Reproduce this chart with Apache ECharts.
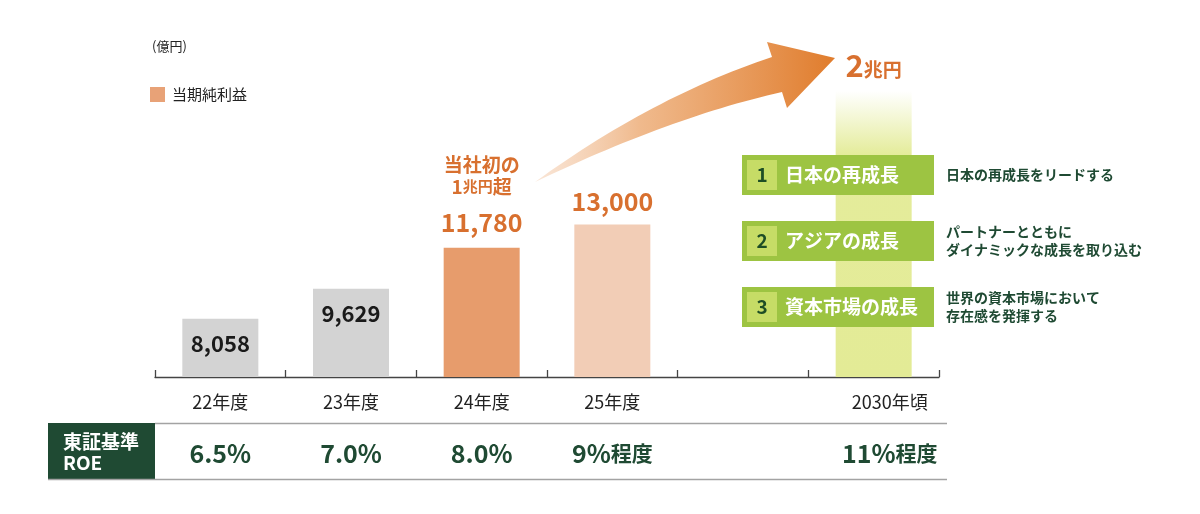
<!DOCTYPE html>
<html>
<head>
<meta charset="utf-8">
<script src="https://cdn.jsdelivr.net/npm/echarts@6/dist/echarts.min.js"></script>
<style>
html,body{margin:0;padding:0;background:#fff;}
#chart{width:1200px;height:514px;}
</style>
</head>
<body>
<div id="chart"></div>
<script>
// ---- data ----
const categories = ['22年度', '23年度', '24年度', '25年度', '', '2030年頃'];
const netIncome = [8058, 9629, 11780, 13000, null, 20000];
const valueLabels = ['8,058', '9,629', '11,780', '13,000', '', '2兆円'];
const roeLabels = ['6.5%', '7.0%', '8.0%', '9%程度', '', '11%程度'];
const unitLabel = '(億円)';
const seriesName = '当期純利益';
const milestoneNote = ['当社初の', '1兆円超'];
const pillarNums = ['1', '2', '3'];
const pillars = ['日本の再成長', 'アジアの成長', '資本市場の成長'];
const pillarNotes = [
  ['日本の再成長をリードする'],
  ['パートナーとともに', 'ダイナミックな成長を取り込む'],
  ['世界の資本市場において', '存在感を発揮する']
];
const roeHeader = ['東証基準', 'ROE'];

// ---- styles ----
const FONT = '"Noto Sans CJK JP", "Noto Sans", sans-serif';
const ORANGE = '#d8702f';
const DKGREEN = '#1f4a33';
const barColors = ['#d3d3d3', '#d3d3d3', '#e79c6c', '#f2cdb6', null,
  {type: 'linear', x: 0, y: 0, x2: 0, y2: 1, colorStops: [
    {offset: 0, color: 'rgba(227,235,150,0.0)'},
    {offset: 0.22, color: 'rgba(227,235,150,0.95)'},
    {offset: 1, color: 'rgba(227,235,150,1)'}
  ]}];

const chart = echarts.init(document.getElementById('chart'));

const seriesData = netIncome.map((v, i) => {
  const item = {value: v == null ? '-' : v, itemStyle: {color: barColors[i]}};
  if (i <= 1) {
    item.label = {show: true, position: 'insideTop', distance: 14, formatter: valueLabels[i],
      color: '#1a1a1a', fontSize: 22, fontWeight: 'bold', fontFamily: FONT};
  } else if (i === 2) {
    item.label = {show: true, position: 'top', distance: 10,
      formatter: '{a|' + milestoneNote[0] + '}\n{a|1}{s|' + milestoneNote[1].slice(1, 3) + '}{a|' + milestoneNote[1].slice(3) + '}\n{sp| }\n{v|' + valueLabels[i] + '}',
      rich: {
        a: {fontSize: 19, fontWeight: 'bold', color: ORANGE, lineHeight: 22, fontFamily: FONT},
        s: {fontSize: 15, fontWeight: 'bold', color: ORANGE, lineHeight: 22, fontFamily: FONT},
        sp: {fontSize: 2, lineHeight: 10},
        v: {fontSize: 25, fontWeight: 'bold', color: ORANGE, lineHeight: 30, fontFamily: FONT}
      }};
  } else if (i === 3) {
    item.label = {show: true, position: 'top', distance: 8, formatter: valueLabels[i],
      color: ORANGE, fontSize: 25, fontWeight: 'bold', fontFamily: FONT, lineHeight: 30};
  } else if (i === 5) {
    const m = valueLabels[i].match(/^(\d+)(.*)$/);
    item.label = {show: true, position: 'top', distance: 10,
      formatter: '{n|' + m[1] + '}{u|' + m[2] + '}',
      rich: {
        n: {fontSize: 31, fontWeight: 'bold', color: ORANGE, fontFamily: FONT, lineHeight: 30, verticalAlign: 'bottom'},
        u: {fontSize: 19, fontWeight: 'bold', color: ORANGE, fontFamily: FONT, lineHeight: 30, verticalAlign: 'bottom', padding: [0, 0, 2, 0]}
      }};
  }
  return item;
});

// arrow outline (decorative): two quadratic curves + head
function quad(p0, c, p1, n) {
  const pts = [];
  for (let k = 0; k <= n; k++) {
    const t = k / n, u = 1 - t;
    pts.push([u * u * p0[0] + 2 * u * t * c[0] + t * t * p1[0], u * u * p0[1] + 2 * u * t * c[1] + t * t * p1[1]]);
  }
  return pts;
}
const arrowPts = [].concat(
  quad([535, 182], [652, 97], [772, 57], 30),
  [[767, 42], [835, 58], [787, 108]],
  quad([782, 92], [671, 117], [535, 182], 30)
);

const graphics = [];
graphics.push({type: 'text', left: 152, top: 40, z: 10,
  style: {text: unitLabel, font: '13px ' + FONT, fill: '#222'}});
graphics.push({type: 'polygon', z: 10,
  shape: {points: arrowPts},
  style: {fill: {type: 'linear', x: 535, y: 0, x2: 835, y2: 0, global: true, colorStops: [
    {offset: 0, color: 'rgba(244,205,175,0.5)'},
    {offset: 0.35, color: 'rgba(238,178,128,0.9)'},
    {offset: 1, color: '#e07c2c'}
  ]}}});
const boxTops = [155, 221, 287];
pillars.forEach((p, i) => {
  const y = boxTops[i];
  graphics.push({type: 'rect', z: 10, shape: {x: 742, y: y, width: 192, height: 40}, style: {fill: '#9dc442'}});
  graphics.push({type: 'rect', z: 11, shape: {x: 747, y: y + 5, width: 30, height: 30}, style: {fill: '#c6dc66'}});
  graphics.push({type: 'text', z: 12, x: 762, y: y + 20,
    style: {text: pillarNums[i], font: 'bold 19px ' + FONT, fill: '#1d4d25', align: 'center', verticalAlign: 'middle'}});
  graphics.push({type: 'text', z: 12, x: 785, y: y + 20,
    style: {text: p, font: 'bold 19px ' + FONT, fill: '#ffffff', align: 'left', verticalAlign: 'middle'}});
  graphics.push({type: 'text', z: 12, x: 946, y: y + 20,
    style: {text: pillarNotes[i].join('\n'), font: 'bold 14px ' + FONT, lineHeight: 18, fill: DKGREEN, align: 'left', verticalAlign: 'middle'}});
});
graphics.push({type: 'rect', z: 10, shape: {x: 48, y: 423, width: 107, height: 56}, style: {fill: DKGREEN}});
graphics.push({type: 'text', z: 11, x: 63, y: 452,
  style: {text: roeHeader.join('\n'), font: 'bold 19px ' + FONT, lineHeight: 21, fill: '#fff', align: 'left', verticalAlign: 'middle'}});
graphics.push({type: 'line', z: 10, shape: {x1: 155, y1: 423.5, x2: 947, y2: 423.5}, style: {stroke: '#a3a3a3', lineWidth: 1.5}});
graphics.push({type: 'line', z: 10, shape: {x1: 48, y1: 479.5, x2: 947, y2: 479.5}, style: {stroke: '#a3a3a3', lineWidth: 1.5}});

const option = {
  backgroundColor: '#fff',
  animation: false,
  textStyle: {fontFamily: FONT},
  legend: {
    left: 150, top: 87, padding: 0, itemWidth: 15, itemHeight: 15, itemGap: 10,
    icon: 'rect', data: [seriesName],
    textStyle: {fontSize: 15, color: '#222', fontFamily: FONT, padding: [0, 0, 0, 2]}
  },
  grid: {left: 155, right: 261, top: 91, bottom: 137},
  xAxis: [{
    type: 'category', data: categories, boundaryGap: true,
    axisLine: {show: true, lineStyle: {color: '#444', width: 1.3}},
    axisTick: {show: true, inside: true, length: 7, interval: 0, alignWithLabel: false, lineStyle: {color: '#444', width: 1.3}},
    axisLabel: {
      margin: 25, interval: 0, verticalAlign: 'middle', fontSize: 18, color: '#222', fontFamily: FONT,
      formatter: (v, i) => i === 5 ? '{r|' + v + '}' : v,
      rich: {r: {fontSize: 18, color: '#222', fontFamily: FONT, padding: [0, 0, 0, 32]}}
    }
  }, {
    type: 'category', data: roeLabels, position: 'bottom', offset: 76,
    axisLine: {show: false}, axisTick: {show: false},
    axisLabel: {
      margin: 0, interval: 0, verticalAlign: 'middle',
      formatter: (v, i) => {
        const m = v.match(/^([\d.]+%)(.*)$/);
        if (!m) return '';
        const n = i === 5 ? 'n2' : 'n';
        return '{' + n + '|' + m[1] + '}' + (m[2] ? '{u|' + m[2] + '}' : '');
      },
      rich: {
        n: {fontSize: 25, fontWeight: 'bold', color: DKGREEN, fontFamily: FONT},
        n2: {fontSize: 25, fontWeight: 'bold', color: DKGREEN, fontFamily: FONT, padding: [0, 0, 0, 32]},
        u: {fontSize: 21, fontWeight: 'bold', color: DKGREEN, fontFamily: FONT}
      }
    }
  }],
  yAxis: {type: 'value', min: 5000, max: 20000, show: false, splitLine: {show: false}},
  series: [{
    name: seriesName, type: 'bar', xAxisIndex: 0, barWidth: 76,
    itemStyle: {color: '#e8a277'},
    data: seriesData
  }],
  graphic: graphics
};
chart.setOption(option);
</script>
</body>
</html>
